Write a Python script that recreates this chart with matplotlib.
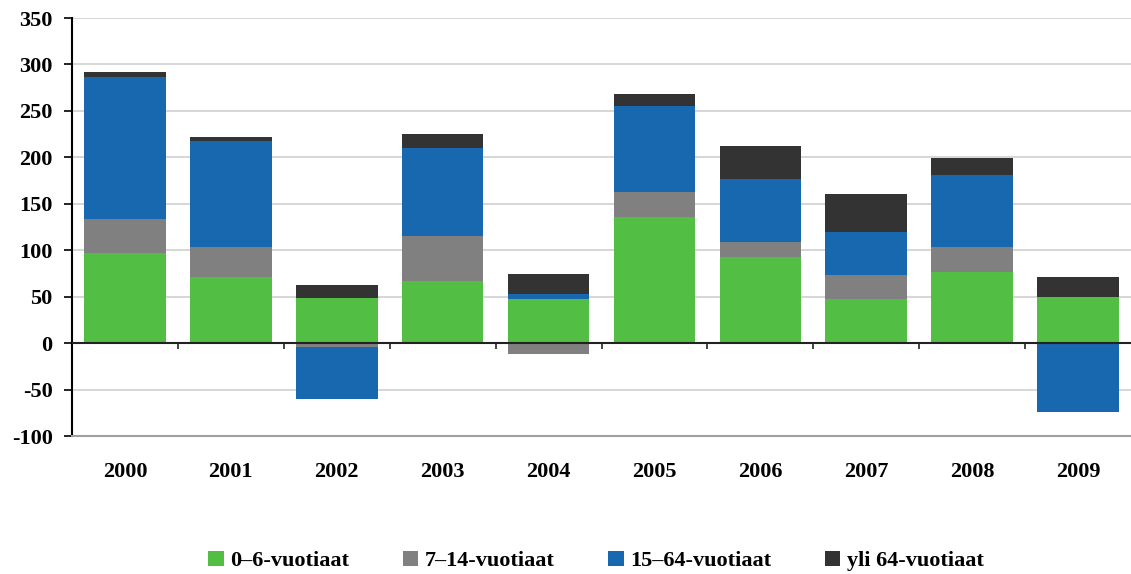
import numpy as np
import matplotlib
matplotlib.use("Agg")
import matplotlib.pyplot as plt
from matplotlib.patches import Patch

# ---- data --------------------------------------------------------------
years = ["2000", "2001", "2002", "2003", "2004",
         "2005", "2006", "2007", "2008", "2009"]
age_0_6 = [97, 71, 49, 67, 47, 136, 93, 48, 77, 50]
age_7_14 = [37, 32, -4, 48, -12, 27, 16, 25, 27, -1]
age_15_64 = [152, 115, -56, 95, 6, 92, 68, 47, 77, -73]
age_65_plus = [6, 4, 14, 15, 21, 13, 35, 40, 18, 21]

labels = ["0\u20136-vuotiaat", "7\u201314-vuotiaat",
          "15\u201364-vuotiaat", "yli 64-vuotiaat"]
colors = ["#52be44", "#808080", "#1868b0", "#333333"]

plt.rcParams["font.family"] = ["Liberation Serif", "DejaVu Serif"]
plt.rcParams["font.weight"] = "bold"
plt.rcParams["axes.unicode_minus"] = False

fig = plt.figure(figsize=(11.31, 5.74), dpi=100)
ax = fig.add_axes([72 / 1131, 1 - 436 / 574, (1131 - 72) / 1131, (436 - 18) / 574])

x = np.arange(len(years))
pos_base = np.zeros(len(years))
neg_base = np.zeros(len(years))
for series, col in zip([age_0_6, age_7_14, age_15_64, age_65_plus], colors):
    vals = np.array(series, dtype=float)
    bottoms = np.where(vals >= 0, pos_base, neg_base)
    ax.bar(x, vals, width=0.77, bottom=bottoms, color=col, zorder=3)
    pos_base += np.where(vals >= 0, vals, 0)
    neg_base += np.where(vals < 0, vals, 0)

ax.set_xlim(-0.5, len(years) - 0.5)
ax.set_ylim(-100, 350)
ax.set_yticks(np.arange(-100, 351, 50))
ax.grid(axis="y", color="#d0d0d0", linewidth=1.2, zorder=0)
ax.tick_params(axis="y", direction="out", length=6, width=1.2,
               labelsize=16, pad=8)

ax.set_xticks(x)
ax.set_xticklabels(years)
ax.tick_params(axis="x", length=0, labelsize=16, pad=19)

# zero line with small category separator ticks
ax.axhline(0, color="#222222", linewidth=1.5, zorder=4)
ax.vlines(x[:-1] + 0.5, -6, 0, color="#222222", linewidth=1.2, zorder=4)

for s in ["top", "right"]:
    ax.spines[s].set_visible(False)
ax.spines["left"].set_linewidth(1.5)
ax.spines["bottom"].set_color("#a0a0a0")
ax.spines["bottom"].set_linewidth(1.5)

handles = [Patch(facecolor=c, edgecolor="none") for c in colors]
fig.legend(handles, labels, loc="lower center", ncol=4, frameon=False,
           bbox_to_anchor=(0.527, -0.03), fontsize=16,
           handlelength=0.7, handleheight=0.7, handletextpad=0.3,
           columnspacing=2.4)

fig.savefig("out.png", dpi=100)
